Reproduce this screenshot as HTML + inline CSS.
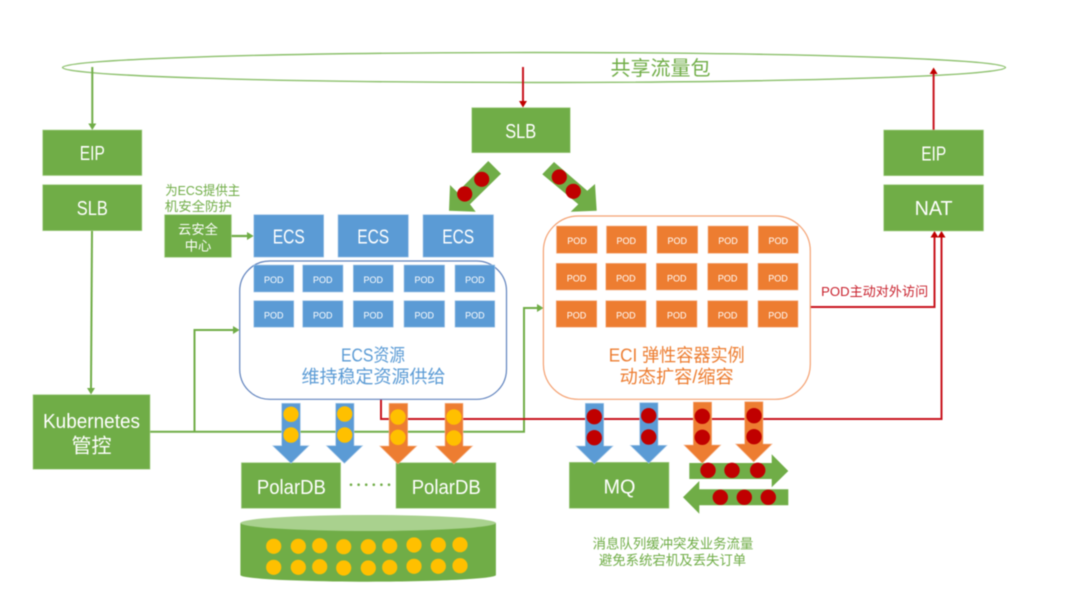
<!DOCTYPE html>
<html lang="zh">
<head>
<meta charset="utf-8">
<title>Diagram</title>
<style>
html,body{margin:0;padding:0;background:#fff;width:1080px;height:608px;overflow:hidden}
svg{display:block;filter:blur(.4px)}
text{font-family:"Liberation Sans","Noto Sans CJK SC",sans-serif;text-anchor:middle;dominant-baseline:central;transform:translateY(1.3px)}
.w{fill:#fff}
.l{font-size:20px}
.p{font-size:9px;fill:#fff}
.g{fill:#70ad47}
.b{fill:#5b9bd5;stroke:#a9c9e8;stroke-width:.6}
.o{fill:#ed7d31;stroke:#f6b48d;stroke-width:.6}
.bx{fill:#70ad47;stroke:#a9d18e;stroke-width:.6}
.y{fill:#ffc000}
.r{fill:#c00000}
.lg{fill:none;stroke:#70ad47;stroke-width:2}
.lr{fill:none;stroke:#c8141e;stroke-width:2}
</style>
</head>
<body>
<svg width="1080" height="608" viewBox="0 0 1080 608" xmlns="http://www.w3.org/2000/svg">
<rect width="1080" height="608" fill="#fff"/>

<!-- shared traffic ellipse -->
<ellipse cx="534" cy="67.5" rx="471.5" ry="15" fill="none" stroke="#8cc06c" stroke-width="1.4"/>
<text x="660.5" y="67.5" font-size="20" class="g">共享流量包</text>

<!-- green connectors -->
<path class="lg" d="M92.3 67V125"/>
<polygon class="g" points="88.3,123.5 96.3,123.5 92.3,130"/>
<path class="lg" d="M92 231L91 388"/>
<polygon class="g" points="87,388 95,388 91,394.5"/>
<path class="lg" d="M150 431.7H524V308H537"/>
<polygon class="g" points="537,304 537,312 543.5,308"/>
<path class="lg" d="M194.5 431.7V330H233"/>
<polygon class="g" points="233,326 233,334 239.5,330"/>
<path class="lg" style="stroke-width:2.2" d="M231.4 236H248"/>
<polygon class="g" points="247,232 247,240 253.6,236"/>

<!-- red connectors -->
<path class="lr" d="M523 67V102"/>
<polygon class="r" points="519,101 527,101 523,107.5"/>
<path class="lr" d="M933.6 130V74"/>
<polygon class="r" points="929.6,74 937.6,74 933.6,67.5"/>
<path class="lr" d="M810 307H934.5V237"/>
<polygon class="r" points="930.5,237.5 938.5,237.5 934.5,231"/>
<path class="lr" d="M381 399.5V419H941.5V237"/>
<polygon class="r" points="937.5,237.5 945.5,237.5 941.5,231"/>

<!-- top SLB -->
<rect class="bx" x="471.8" y="107.7" width="98.4" height="45"/>
<text class="l w" x="520.7" y="130.7" textLength="31" lengthAdjust="spacingAndGlyphs">SLB</text>

<!-- left column -->
<rect class="bx" x="42.7" y="130" width="99.2" height="45.5"/>
<text class="l w" x="92.3" y="152.7" textLength="25" lengthAdjust="spacingAndGlyphs">EIP</text>
<rect class="bx" x="42.7" y="184.7" width="99.2" height="46"/>
<text class="l w" x="92.3" y="207.7" textLength="31" lengthAdjust="spacingAndGlyphs">SLB</text>
<rect class="bx" x="33" y="394.7" width="117" height="74.5"/>
<text class="l w" x="91.5" y="420.7" textLength="97" lengthAdjust="spacingAndGlyphs">Kubernetes</text>
<text class="l w" x="91.5" y="445">管控</text>

<!-- right column -->
<rect class="bx" x="883.7" y="130" width="99.8" height="45.7"/>
<text class="l w" x="933.7" y="153" textLength="25" lengthAdjust="spacingAndGlyphs">EIP</text>
<rect class="bx" x="883.7" y="184.7" width="99.8" height="46.3"/>
<text class="l w" x="933.6" y="207.7" textLength="38" lengthAdjust="spacingAndGlyphs">NAT</text>
<text x="874.7" y="290" font-size="13" fill="#c8202c" textLength="107" lengthAdjust="spacingAndGlyphs">POD主动对外访问</text>

<!-- cloud security -->
<text x="202.7" y="189" font-size="13.3" class="g" textLength="75" lengthAdjust="spacingAndGlyphs">为ECS提供主</text>
<text x="198.3" y="205" font-size="13.3" class="g" textLength="67" lengthAdjust="spacingAndGlyphs">机安全防护</text>
<rect class="bx" x="164.6" y="214.7" width="66.8" height="42.6"/>
<text class="w" x="198" y="228.3" font-size="13.3">云安全</text>
<text class="w" x="198" y="244.7" font-size="13.3">中心</text>

<!-- ECS boxes -->
<rect class="b" x="253.8" y="214.7" width="69.9" height="42.4"/>
<rect class="b" x="338" y="214.7" width="70.4" height="42.4"/>
<rect class="b" x="423" y="214.7" width="70.5" height="42.4"/>
<text class="l w" x="288.8" y="236" textLength="32" lengthAdjust="spacingAndGlyphs">ECS</text>
<text class="l w" x="373.2" y="236" textLength="32" lengthAdjust="spacingAndGlyphs">ECS</text>
<text class="l w" x="458.2" y="236" textLength="32" lengthAdjust="spacingAndGlyphs">ECS</text>

<!-- ECS container -->
<rect x="239.7" y="261" width="266.8" height="138.3" rx="30" ry="30" fill="#fff" stroke="#5f82bd" stroke-width="1.2"/>
<rect class="b" x="253.8" y="265" width="40" height="27"/><text class="p" x="273.8" y="278.7">POD</text>
<rect class="b" x="302.7" y="265" width="40.3" height="27"/><text class="p" x="322.8" y="278.7">POD</text>
<rect class="b" x="353.3" y="265" width="40" height="27"/><text class="p" x="373.3" y="278.7">POD</text>
<rect class="b" x="404" y="265" width="40.6" height="27"/><text class="p" x="424.3" y="278.7">POD</text>
<rect class="b" x="455" y="265" width="39.8" height="27"/><text class="p" x="474.9" y="278.7">POD</text>
<rect class="b" x="253.8" y="300.7" width="40" height="26.5"/><text class="p" x="273.8" y="314">POD</text>
<rect class="b" x="302.7" y="300.7" width="40.3" height="26.5"/><text class="p" x="322.8" y="314">POD</text>
<rect class="b" x="353.3" y="300.7" width="40" height="26.5"/><text class="p" x="373.3" y="314">POD</text>
<rect class="b" x="404" y="300.7" width="40.6" height="26.5"/><text class="p" x="424.3" y="314">POD</text>
<rect class="b" x="455" y="300.7" width="39.8" height="26.5"/><text class="p" x="474.9" y="314">POD</text>
<text x="373" y="354" font-size="18" fill="#5b9bd5" textLength="64" lengthAdjust="spacingAndGlyphs">ECS资源</text>
<text x="373.5" y="375.7" font-size="18" fill="#5b9bd5">维持稳定资源供给</text>

<!-- ECI container -->
<rect x="543.4" y="216" width="266.9" height="183.3" rx="35" ry="35" fill="#fff" stroke="#f4a070" stroke-width="1.2"/>
<rect class="o" x="556.5" y="226" width="40.7" height="27.3"/><text class="p" x="577" y="239.7">POD</text>
<rect class="o" x="606.5" y="226" width="40.2" height="27.3"/><text class="p" x="626.2" y="239.7">POD</text>
<rect class="o" x="657" y="226" width="40.7" height="27.3"/><text class="p" x="677.3" y="239.7">POD</text>
<rect class="o" x="708" y="226" width="40.3" height="27.3"/><text class="p" x="728" y="239.7">POD</text>
<rect class="o" x="758.3" y="226" width="40" height="27.3"/><text class="p" x="778.3" y="239.7">POD</text>
<rect class="o" x="556.2" y="263.3" width="40.6" height="26.7"/><text class="p" x="576.5" y="277">POD</text>
<rect class="o" x="605.8" y="263.3" width="40.2" height="26.7"/><text class="p" x="625.9" y="277">POD</text>
<rect class="o" x="656.4" y="263.3" width="40.6" height="26.7"/><text class="p" x="676.7" y="277">POD</text>
<rect class="o" x="707.7" y="263.3" width="39.9" height="26.7"/><text class="p" x="727.6" y="277">POD</text>
<rect class="o" x="758" y="263.3" width="40" height="26.7"/><text class="p" x="778" y="277">POD</text>
<rect class="o" x="556.2" y="300.7" width="40.6" height="26.5"/><text class="p" x="576.5" y="314">POD</text>
<rect class="o" x="605.8" y="300.7" width="40.2" height="26.5"/><text class="p" x="625.9" y="314">POD</text>
<rect class="o" x="656.4" y="300.7" width="40.6" height="26.5"/><text class="p" x="676.7" y="314">POD</text>
<rect class="o" x="707.7" y="300.7" width="39.9" height="26.5"/><text class="p" x="727.6" y="314">POD</text>
<rect class="o" x="758" y="300.7" width="40" height="26.5"/><text class="p" x="778" y="314">POD</text>
<text x="676.7" y="354" font-size="18" fill="#ed7d31" textLength="136" lengthAdjust="spacingAndGlyphs">ECI 弹性容器实例</text>
<text x="676.7" y="375.7" font-size="18" fill="#ed7d31" textLength="114" lengthAdjust="spacingAndGlyphs">动态扩容/缩容</text>

<!-- diagonal arrows from SLB -->
<polygon class="g" points="488.3,161 501,173.7 470,204.3 475.7,211.7 449,210.7 450,185 457.3,192.3"/>
<circle class="r" cx="481.7" cy="179.3" r="7.6"/>
<circle class="r" cx="464.7" cy="194" r="7.6"/>
<polygon class="g" points="542.3,174.3 554,162 587.3,190.7 595,184 596.7,210.7 570.7,211.7 578.3,204.3"/>
<circle class="r" cx="559.3" cy="177" r="7.6"/>
<circle class="r" cx="573.3" cy="191.3" r="7.6"/>

<!-- PolarDB boxes -->
<rect class="bx" x="241.4" y="462.7" width="99.2" height="45.6"/>
<text class="l w" x="291.4" y="486.7" textLength="69" lengthAdjust="spacingAndGlyphs">PolarDB</text>
<rect class="bx" x="396" y="462.7" width="99.9" height="45.6"/>
<text class="l w" x="446.2" y="486.7" textLength="69" lengthAdjust="spacingAndGlyphs">PolarDB</text>
<g class="g">
<circle cx="351" cy="484.7" r="1.3"/><circle cx="358.6" cy="484.7" r="1.3"/><circle cx="366.2" cy="484.7" r="1.3"/>
<circle cx="373.8" cy="484.7" r="1.3"/><circle cx="381.4" cy="484.7" r="1.3"/><circle cx="389" cy="484.7" r="1.3"/>
</g>

<!-- MQ -->
<rect class="bx" x="569.3" y="462.3" width="99.7" height="46"/>
<text class="l w" x="619.5" y="486" textLength="32" lengthAdjust="spacingAndGlyphs">MQ</text>

<!-- vertical arrows PolarDB -->
<polygon class="b" points="281.7,403.3 300.3,403.3 300.3,445.7 308.9,445.7 291,463.3 272.7,445.7 281.7,445.7"/>
<circle class="y" cx="291" cy="414.3" r="7.7"/><circle class="y" cx="291" cy="435" r="7.7"/>
<polygon class="b" points="335.7,403.3 354,403.3 354,445.7 362.6,445.7 344.4,463.3 326.4,445.7 335.7,445.7"/>
<circle class="y" cx="344.7" cy="414" r="7.7"/><circle class="y" cx="344.7" cy="435" r="7.7"/>
<polygon class="o" points="389,403.3 407.7,403.3 407.7,446 416.7,446 398,464 379.8,446 389,446"/>
<circle class="y" cx="398" cy="417" r="7.7"/><circle class="y" cx="398" cy="437.3" r="7.7"/>
<polygon class="o" points="445,403.3 463,403.3 463,446 472.5,446 453.9,464 435.6,446 445,446"/>
<circle class="y" cx="453.9" cy="417" r="7.7"/><circle class="y" cx="453.9" cy="438" r="7.7"/>

<!-- vertical arrows MQ -->
<polygon class="b" points="585.3,403.3 603.7,403.3 603.7,446 613,446 594.3,464 576,446 585.3,446"/>
<circle class="r" cx="594.3" cy="416.7" r="7.7"/><circle class="r" cx="594.3" cy="437.7" r="7.7"/>
<polygon class="b" points="639.7,402.7 658,402.7 658,445.3 667,445.3 648.7,463.3 630.3,445.3 639.7,445.3"/>
<circle class="r" cx="648.7" cy="415.7" r="7.7"/><circle class="r" cx="648.7" cy="437" r="7.7"/>

<!-- horizontal arrows -->
<polygon class="g" points="689.3,463 771.7,463 771.7,454.3 788.3,471 771.7,487.3 771.7,479 689.3,479"/>
<polygon class="g" points="788.3,489.3 699.3,489.3 699.3,481 683,497.3 699.3,513.7 699.3,505.3 788.3,505.3"/>

<polygon class="o" points="693.3,402 711.7,402 711.7,445 720.7,445 702.3,463.3 684,445 693.3,445"/>
<circle class="r" cx="702.3" cy="416.3" r="7.7"/><circle class="r" cx="702.3" cy="437.3" r="7.7"/>
<polygon class="o" points="744.7,401.7 763,401.7 763,444 772,444 753.7,462 735.7,444 744.7,444"/>
<circle class="r" cx="754" cy="415.7" r="7.7"/><circle class="r" cx="754" cy="436.7" r="7.7"/>

<circle class="r" cx="708" cy="470.3" r="7.7"/><circle class="r" cx="732" cy="470.3" r="7.7"/><circle class="r" cx="757.7" cy="470.3" r="7.7"/>
<circle class="r" cx="720.3" cy="497.3" r="7.7"/><circle class="r" cx="744.3" cy="497.3" r="7.7"/><circle class="r" cx="768.3" cy="497.3" r="7.7"/>

<!-- database cylinder -->
<path class="g" d="M240.4 523V575C240.4 579 304 581.7 368 581.7S495.9 579 495.9 575V523Z"/>
<ellipse cx="368.2" cy="523" rx="127.7" ry="8" fill="#a9d18e"/>
<g class="y">
<circle cx="273.7" cy="546.3" r="7.6"/><circle cx="298.3" cy="546.3" r="7.6"/><circle cx="319.7" cy="545.7" r="7.6"/>
<circle cx="343.7" cy="546.7" r="7.6"/><circle cx="368.3" cy="546.7" r="7.6"/><circle cx="389.7" cy="546" r="7.6"/>
<circle cx="414" cy="545" r="7.6"/><circle cx="438.3" cy="545" r="7.6"/><circle cx="460" cy="544.7" r="7.6"/>
<circle cx="273.7" cy="567.3" r="7.6"/><circle cx="298.3" cy="567.3" r="7.6"/><circle cx="319.7" cy="566.7" r="7.6"/>
<circle cx="343.7" cy="568" r="7.6"/><circle cx="368.3" cy="568" r="7.6"/><circle cx="389.7" cy="567.3" r="7.6"/>
<circle cx="414" cy="566.3" r="7.6"/><circle cx="438.3" cy="566.3" r="7.6"/><circle cx="460" cy="565.7" r="7.6"/>
</g>

<!-- MQ caption -->
<text x="673" y="542.7" font-size="13.4" class="g">消息队列缓冲突发业务流量</text>
<text x="672.5" y="559" font-size="13.4" class="g">避免系统宕机及丢失订单</text>
</svg>
</body>
</html>
